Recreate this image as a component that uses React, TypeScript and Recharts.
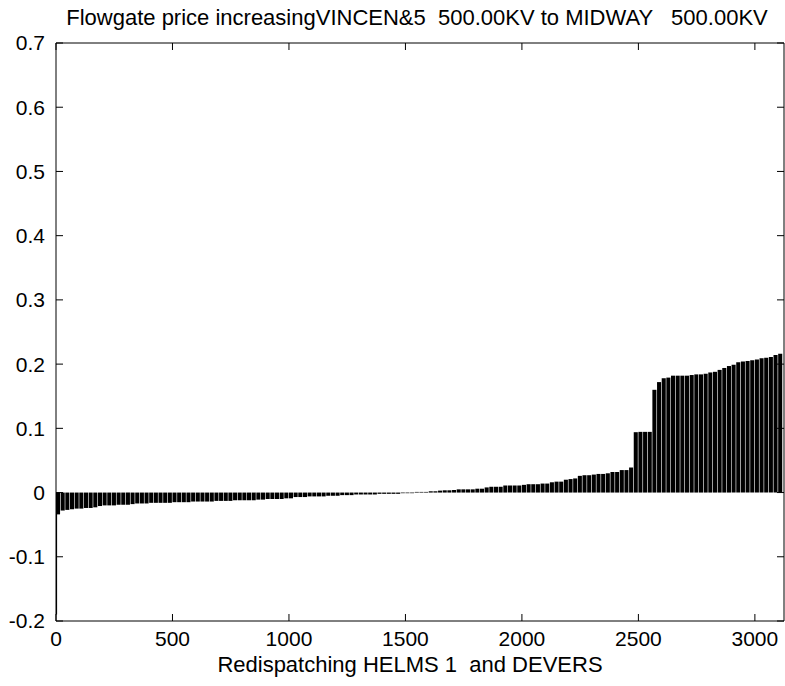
import { Bar, ComposedChart, Line, XAxis, YAxis } from "recharts";

// redispatch samples, grouped 20 per bar
const SAMPLE_STEP = 20;

const priceValues = [
  -0.034, -0.028, -0.027,
  -0.026, -0.025, -0.025, -0.024, -0.024, -0.023,
  -0.021, -0.02, -0.02, -0.02, -0.019, -0.019, -0.019, -0.018,
  -0.017, -0.017, -0.017, -0.016, -0.016, -0.016, -0.016, -0.016,
  -0.015, -0.015, -0.015, -0.015, -0.014, -0.014, -0.014, -0.014, -0.014, -0.013, -0.013,
  -0.013, -0.013, -0.012, -0.012, -0.012, -0.012, -0.012,
  -0.011, -0.011, -0.01, -0.01, -0.01, -0.01, -0.009, -0.009,
  -0.007, -0.007, -0.007, -0.006, -0.006, -0.006, -0.006, -0.005, -0.005, -0.005,
  -0.004, -0.004, -0.004, -0.003, -0.003, -0.003, -0.003, -0.003, -0.002, -0.002, -0.002, -0.002, -0.002, -0.001,
  -0.001, -0.001, 0.001, 0.001, 0.001, 0.002, 0.002,
  0.003, 0.0035, 0.0035, 0.004,
  0.005, 0.005, 0.005, 0.005, 0.006, 0.006,
  0.008, 0.009, 0.009, 0.009,
  0.011, 0.011, 0.011, 0.011,
  0.012, 0.013, 0.013, 0.013, 0.014, 0.014,
  0.016, 0.017, 0.017,
  0.02, 0.021, 0.022,
  0.026, 0.027, 0.027,
  0.028, 0.029, 0.029, 0.03,
  0.032, 0.032,
  0.035, 0.035,
  0.039,
  0.094, 0.0945, 0.0945, 0.0945,
  0.16,
  0.172,
  0.178, 0.179,
  0.182, 0.182, 0.182, 0.182,
  0.183, 0.184, 0.184, 0.185,
  0.187, 0.188,
  0.191,
  0.194,
  0.197, 0.199,
  0.203, 0.204, 0.205,
  0.206, 0.207,
  0.209, 0.21, 0.211,
  0.214, 0.216,
];

// the first few samples dip far below zero (thin spike at the left edge)
const spikeSamples = [1.5, 1.5];
const spikeValues = [-0.19, -0.03];

const xTicks = [0, 500, 1000, 1500, 2000, 2500, 3000];
const yTicks = [-0.2, -0.1, 0, 0.1, 0.2, 0.3, 0.4, 0.5, 0.6, 0.7];

const X_MAX = 3125;
const FONT = "'Liberation Sans', Arial, sans-serif";

const barData = priceValues.map((v, i) => ({ sample: i * SAMPLE_STEP + SAMPLE_STEP / 2, price: v }));
const spikeData = spikeSamples.map((s, i) => ({ sample: s, spike: spikeValues[i] }));

const tickStyle = { fontSize: 21, fill: "#000", fontFamily: FONT };
const noLabel = () => "";

export default function App() {
  const width = 785;
  const height = 686;
  const plotLeft = 56;
  const plotRight = width - 1;
  const barWidth = ((plotRight - plotLeft) * SAMPLE_STEP) / X_MAX - 0.6;

  return (
    <div style={{ position: "absolute", left: 0, top: 0, width, height, background: "#fff" }}>
      <div
        style={{
          position: "absolute",
          top: 5,
          left: 0,
          width: 834,
          textAlign: "center",
          whiteSpace: "pre",
          fontFamily: FONT,
          fontSize: 22,
          lineHeight: "26px",
        }}
      >
        {"Flowgate price increasingVINCEN&5  500.00KV to MIDWAY   500.00KV"}
      </div>
      <ComposedChart
        width={width}
        height={height}
        data={barData}
        margin={{ top: 42, right: 0, bottom: 0, left: 0 }}
      >
        <XAxis
          dataKey="sample"
          type="number"
          domain={[0, X_MAX]}
          ticks={xTicks}
          allowDataOverflow
          height={65}
          stroke="#000"
          tickSize={-7}
          tickMargin={17}
          tick={tickStyle}
        />
        <XAxis
          xAxisId="top"
          dataKey="sample"
          orientation="top"
          type="number"
          domain={[0, X_MAX]}
          ticks={xTicks}
          allowDataOverflow
          height={1}
          stroke="#000"
          tickSize={-7}
          tickFormatter={noLabel}
        />
        <YAxis
          type="number"
          domain={[-0.2, 0.7]}
          ticks={yTicks}
          allowDataOverflow
          width={56}
          stroke="#000"
          tickSize={-7}
          tickMargin={18}
          tick={tickStyle}
          tickFormatter={(v: number) => (v === 0 ? "0" : v.toFixed(1))}
        />
        <YAxis
          yAxisId="right"
          orientation="right"
          type="number"
          domain={[-0.2, 0.7]}
          ticks={yTicks}
          allowDataOverflow
          width={1}
          stroke="#000"
          tickSize={-7}
          tickFormatter={noLabel}
        />
        <Bar dataKey="price" fill="#000" barSize={barWidth} isAnimationActive={false} />
        <Line
          xAxisId="top"
          yAxisId="right"
          data={spikeData}
          dataKey="spike"
          stroke="#000"
          strokeWidth={1.5}
          dot={false}
          isAnimationActive={false}
        />
      </ComposedChart>
      <div
        style={{
          position: "absolute",
          top: 652,
          left: 0,
          width: 820,
          textAlign: "center",
          whiteSpace: "pre",
          fontFamily: FONT,
          fontSize: 22,
          lineHeight: "26px",
        }}
      >
        {"Redispatching HELMS 1  and DEVERS"}
      </div>
    </div>
  );
}
